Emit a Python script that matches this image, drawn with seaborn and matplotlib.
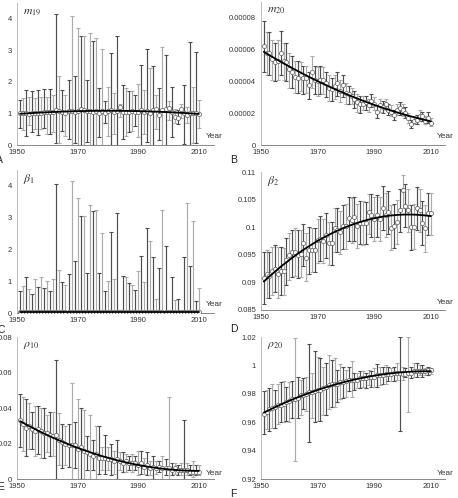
import numpy as np
import seaborn as sns
import matplotlib.pyplot as plt

years = np.arange(1951, 2011)

# A: m19
m19_val = [1.0, 1.0, 1.02, 0.98, 1.0, 1.0, 1.0, 1.02, 1.05, 1.03,
           1.05, 1.05, 1.12, 1.08, 1.05, 1.0, 1.08, 1.08, 1.05, 1.08,
           1.15, 1.12, 1.08, 1.07, 1.05, 1.08, 1.0, 1.07, 1.02, 1.08,
           1.1, 1.05, 1.08, 1.22, 1.05, 1.03, 1.05, 1.08, 1.06, 1.04,
           1.12, 1.05, 1.08, 1.0, 1.1, 1.15, 0.95, 1.12, 1.15, 1.18,
           1.05, 0.9, 0.85, 1.15, 1.0, 0.95, 1.0, 1.02, 1.0, 0.97]
m19_hi = [1.42, 1.5, 1.75, 1.52, 1.72, 1.5, 1.75, 1.52, 1.78, 1.52,
          1.77, 1.6, 4.15, 2.2, 1.75, 1.6, 2.05, 4.1, 2.2, 3.7,
          3.45, 3.45, 2.05, 3.55, 3.3, 3.4, 1.8, 3.05, 1.4, 1.85,
          2.9, 1.65, 3.45, 1.3, 1.9, 1.8, 1.7, 1.7, 1.6, 1.92,
          2.55, 1.75, 3.05, 2.45, 2.5, 1.6, 1.8, 3.1, 2.85, 1.4,
          1.85, 1.15, 1.1, 1.3, 1.9, 1.2, 3.25, 1.85, 2.95, 1.42]
m19_lo = [0.55, 0.48, 0.3, 0.62, 0.4, 0.5, 0.32, 0.5, 0.55, 0.35,
          0.35, 0.4, 0.05, 0.05, 0.45, 0.3, 0.2, 0.0, 0.05, 0.0,
          0.0, 0.0, 0.1, 0.0, 0.0, 0.0, 0.25, 0.0, 0.7, 0.3,
          0.0, 0.35, 0.0, 0.9, 0.2, 0.3, 0.4, 0.45, 0.6, 0.25,
          0.0, 0.35, 0.1, 0.0, 0.0, 0.5, 0.15, 0.0, 0.0, 0.8,
          0.25, 0.7, 0.65, 0.85, 0.02, 0.7, 0.0, 0.05, 0.05, 0.55]

# B: m20 (units of 1e-5)
m20_val = [6.2, 5.8, 5.8, 5.4, 5.2, 5.3, 5.8, 5.3, 5.2, 4.8,
           4.6, 4.3, 4.2, 4.4, 4.2, 4.2, 3.8, 4.6, 4.1, 4.0,
           4.1, 4.1, 3.9, 3.6, 3.5, 3.7, 3.9, 3.4, 3.8, 3.3,
           3.2, 3.1, 2.9, 2.7, 2.6, 2.6, 2.7, 2.5, 2.8, 2.6,
           2.1, 2.5, 2.4, 2.6, 2.2, 2.1, 1.9, 2.2, 2.3, 2.2,
           2.0, 1.7, 1.3, 1.5, 1.6, 1.8, 1.8, 1.5, 1.7, 1.4]
m20_lo = [4.6, 4.4, 4.4, 4.1, 4.0, 4.1, 4.4, 4.1, 4.0, 3.6,
          3.6, 3.3, 3.3, 3.4, 3.2, 3.3, 2.9, 3.6, 3.2, 3.1,
          3.2, 3.2, 3.0, 2.8, 2.8, 2.9, 3.1, 2.7, 3.0, 2.6,
          2.6, 2.6, 2.3, 2.1, 2.0, 2.2, 2.2, 2.1, 2.4, 2.2,
          1.7, 2.1, 2.0, 2.2, 1.9, 1.8, 1.6, 1.9, 1.9, 1.8,
          1.7, 1.4, 1.1, 1.3, 1.3, 1.5, 1.5, 1.3, 1.4, 1.2]
m20_hi = [7.8, 7.1, 7.1, 6.6, 6.4, 6.6, 7.2, 6.4, 6.4, 5.8,
          5.6, 5.3, 5.3, 5.2, 5.0, 5.0, 4.6, 5.6, 5.0, 4.9,
          5.0, 4.9, 4.6, 4.4, 4.2, 4.4, 4.6, 4.1, 4.4, 3.9,
          3.7, 3.6, 3.4, 3.2, 3.1, 3.1, 3.1, 2.9, 3.2, 3.0,
          2.5, 2.9, 2.8, 2.9, 2.6, 2.5, 2.2, 2.6, 2.7, 2.6,
          2.4, 2.0, 1.6, 1.8, 1.9, 2.2, 2.1, 1.8, 2.1, 1.7]

# C: beta1
beta1_val = [0.02, 0.03, 0.02, 0.02, 0.03, 0.02, 0.02, 0.03, 0.02, 0.02,
             0.03, 0.02, 0.02, 0.03, 0.02, 0.02, 0.03, 0.02, 0.02, 0.03,
             0.02, 0.02, 0.03, 0.02, 0.02, 0.03, 0.02, 0.02, 0.03, 0.02,
             0.02, 0.03, 0.02, 0.02, 0.03, 0.02, 0.02, 0.03, 0.02, 0.02,
             0.03, 0.02, 0.02, 0.03, 0.02, 0.02, 0.03, 0.02, 0.02, 0.03,
             0.02, 0.02, 0.03, 0.02, 0.02, 0.03, 0.02, 0.02, 0.03, 0.02]
beta1_hi = [0.7, 0.85, 1.12, 0.75, 0.6, 1.07, 0.82, 1.12, 0.78, 1.0,
            0.7, 1.07, 4.05, 1.35, 0.97, 0.88, 1.22, 4.15, 1.65, 3.62,
            3.05, 3.05, 1.25, 3.4, 3.2, 3.25, 1.25, 2.52, 0.68, 1.02,
            2.55, 1.08, 3.15, 0.1, 1.18, 1.12, 0.95, 0.88, 0.72, 1.32,
            1.8, 0.97, 2.68, 2.28, 1.75, 0.43, 1.42, 3.25, 2.1, 0.05,
            1.12, 0.4, 0.45, 0.05, 1.75, 3.45, 1.48, 2.88, 0.38, 0.8]
beta1_lo = [0.0] * 60

# D: beta2
beta2_val = [0.0908, 0.0915, 0.0912, 0.0921, 0.0925, 0.0915, 0.0921, 0.0920, 0.0940, 0.0950,
             0.0955, 0.0955, 0.0950, 0.0952, 0.0972, 0.0945, 0.0958, 0.0958, 0.0958, 0.0976,
             0.0978, 0.0975, 0.0985, 0.0972, 0.0972, 0.0998, 0.0995, 0.0992, 0.1002, 0.1002,
             0.1017, 0.1013, 0.1018, 0.1002, 0.1008, 0.1008, 0.1008, 0.1028, 0.1022, 0.1015,
             0.1023, 0.1015, 0.1035, 0.1022, 0.1028, 0.0998, 0.1002, 0.1010, 0.1032, 0.1068,
             0.1038, 0.1032, 0.1000, 0.1000, 0.1035, 0.1032, 0.1008, 0.0998, 0.1025, 0.1025]
beta2_lo = [0.0860, 0.0872, 0.0872, 0.0878, 0.0882, 0.0872, 0.0877, 0.0878, 0.0895, 0.0905,
            0.0910, 0.0912, 0.0908, 0.0910, 0.0930, 0.0902, 0.0915, 0.0918, 0.0918, 0.0935,
            0.0938, 0.0935, 0.0945, 0.0932, 0.0932, 0.0955, 0.0955, 0.0952, 0.0960, 0.0960,
            0.0975, 0.0972, 0.0975, 0.0962, 0.0970, 0.0968, 0.0970, 0.0988, 0.0982, 0.0975,
            0.0983, 0.0975, 0.0995, 0.0982, 0.0988, 0.0958, 0.0962, 0.0970, 0.0992, 0.1035,
            0.1000, 0.0992, 0.0958, 0.0960, 0.0995, 0.0992, 0.0968, 0.0955, 0.0985, 0.0985]
beta2_hi = [0.0955, 0.0958, 0.0955, 0.0965, 0.0968, 0.0965, 0.0965, 0.0962, 0.0980, 0.0990,
            0.0995, 0.0998, 0.0995, 0.0995, 0.1005, 0.0990, 0.1000, 0.0998, 0.0998, 0.1015,
            0.1020, 0.1015, 0.1025, 0.1010, 0.1010, 0.1035, 0.1035, 0.1030, 0.1040, 0.1042,
            0.1055, 0.1052, 0.1055, 0.1042, 0.1048, 0.1048, 0.1045, 0.1060, 0.1060, 0.1055,
            0.1058, 0.1055, 0.1075, 0.1062, 0.1065, 0.1040, 0.1042, 0.1050, 0.1070, 0.1095,
            0.1078, 0.1070, 0.1040, 0.1042, 0.1072, 0.1070, 0.1048, 0.1040, 0.1062, 0.1062]

# E: rho10
rho10_val = [0.033, 0.031, 0.029, 0.030, 0.028, 0.027, 0.028, 0.027, 0.026, 0.026,
             0.025, 0.024, 0.025, 0.022, 0.021, 0.020, 0.019, 0.019, 0.019, 0.017,
             0.018, 0.016, 0.015, 0.014, 0.013, 0.014, 0.012, 0.012, 0.012, 0.011,
             0.011, 0.010, 0.011, 0.010, 0.009, 0.010, 0.009, 0.009, 0.009, 0.008,
             0.009, 0.007, 0.008, 0.006, 0.007, 0.006, 0.007, 0.006, 0.006, 0.006,
             0.005, 0.006, 0.005, 0.005, 0.005, 0.005, 0.004, 0.004, 0.004, 0.004]
rho10_lo = [0.018, 0.016, 0.013, 0.017, 0.017, 0.013, 0.014, 0.012, 0.012, 0.015,
            0.013, 0.013, 0.0, 0.008, 0.006, 0.008, 0.007, 0.0, 0.006, 0.0,
            0.0, 0.0, 0.005, 0.0, 0.005, 0.0, 0.003, 0.005, 0.003, 0.005,
            0.002, 0.003, 0.0, 0.005, 0.004, 0.004, 0.005, 0.004, 0.005, 0.002,
            0.003, 0.003, 0.002, 0.002, 0.0, 0.003, 0.004, 0.0, 0.002, 0.0,
            0.002, 0.003, 0.002, 0.002, 0.0, 0.002, 0.002, 0.001, 0.002, 0.002]
rho10_hi = [0.048, 0.046, 0.045, 0.043, 0.038, 0.041, 0.041, 0.040, 0.040, 0.036,
            0.038, 0.038, 0.067, 0.037, 0.031, 0.030, 0.031, 0.054, 0.032, 0.045,
            0.040, 0.039, 0.024, 0.036, 0.022, 0.030, 0.030, 0.018, 0.025, 0.018,
            0.020, 0.016, 0.022, 0.015, 0.015, 0.014, 0.013, 0.014, 0.013, 0.016,
            0.016, 0.012, 0.015, 0.010, 0.013, 0.010, 0.010, 0.013, 0.011, 0.046,
            0.009, 0.009, 0.008, 0.009, 0.033, 0.009, 0.008, 0.010, 0.008, 0.008]

# F: rho20
rho20_val = [0.966, 0.967, 0.969, 0.970, 0.971, 0.972, 0.972, 0.973, 0.974, 0.975,
             0.976, 0.976, 0.977, 0.979, 0.979, 0.980, 0.981, 0.981, 0.982, 0.983,
             0.983, 0.984, 0.985, 0.986, 0.987, 0.987, 0.987, 0.988, 0.988, 0.989,
             0.990, 0.990, 0.990, 0.990, 0.991, 0.991, 0.991, 0.992, 0.992, 0.992,
             0.993, 0.993, 0.993, 0.994, 0.994, 0.994, 0.995, 0.995, 0.995, 0.994,
             0.994, 0.995, 0.995, 0.996, 0.996, 0.996, 0.996, 0.996, 0.997, 0.997]
rho20_lo = [0.952, 0.955, 0.954, 0.956, 0.956, 0.959, 0.960, 0.960, 0.961, 0.960,
            0.963, 0.933, 0.963, 0.965, 0.969, 0.968, 0.946, 0.963, 0.960, 0.961,
            0.961, 0.965, 0.965, 0.969, 0.971, 0.971, 0.974, 0.976, 0.977, 0.978,
            0.982, 0.978, 0.983, 0.984, 0.984, 0.985, 0.984, 0.986, 0.985, 0.985,
            0.985, 0.986, 0.987, 0.987, 0.989, 0.989, 0.989, 0.990, 0.954, 0.990,
            0.992, 0.967, 0.991, 0.992, 0.992, 0.993, 0.992, 0.993, 0.993, 0.994]
rho20_hi = [0.982, 0.983, 0.984, 0.987, 0.983, 0.987, 0.988, 0.989, 0.985, 0.988,
            0.989, 1.019, 0.992, 0.990, 0.991, 0.992, 1.015, 0.995, 1.010, 1.006,
            1.005, 0.999, 1.002, 1.007, 1.004, 1.005, 0.997, 1.001, 0.999, 0.997,
            0.999, 1.003, 0.995, 0.995, 0.996, 0.996, 0.995, 0.997, 0.996, 0.998,
            1.001, 0.999, 0.999, 1.000, 0.999, 0.998, 0.999, 1.002, 1.020, 0.999,
            0.998, 1.020, 0.999, 1.002, 1.002, 1.000, 1.000, 0.998, 0.999, 0.998]

xtick_years = [1950, 1970, 1990, 2010]

sns.set_style("white")
plt.rcParams['font.family'] = ['Liberation Sans', 'DejaVu Sans']
plt.rcParams['mathtext.fontset'] = 'stix'

W, H = 458, 498
fig = plt.figure(figsize=(W / 100, H / 100), dpi=100)

panels = [
    dict(title=r'$m_{19}$', letter='A', val=m19_val, lo=m19_lo, hi=m19_hi, scale=1,
         box=(17, 3, 214, 145), ylim=(0, 4.5), yticks=[0, 1, 2, 3, 4],
         ylabels=['0', '1', '2', '3', '4'], lpos=(-4, 160), yr_y=137),
    dict(title=r'$m_{20}$', letter='B', val=m20_val, lo=m20_lo, hi=m20_hi, scale=1e-5,
         box=(261, 2, 445, 145), ylim=(0, 0.00009),
         yticks=[0, 0.00002, 0.00004, 0.00006, 0.00008],
         ylabels=['0', '0.00002', '0.00004', '0.00006', '0.00008'], lpos=(230, 160), yr_y=137),
    dict(title=r'$\beta_1$', letter='C', val=beta1_val, lo=beta1_lo, hi=beta1_hi, scale=1,
         box=(17, 170, 214, 313), ylim=(0, 4.5), yticks=[0, 1, 2, 3, 4],
         ylabels=['0', '1', '2', '3', '4'], lpos=(-3, 330), yr_y=305),
    dict(title=r'$\beta_2$', letter='D', val=beta2_val, lo=beta2_lo, hi=beta2_hi, scale=1,
         box=(261, 172, 445, 310), ylim=(0.085, 0.11),
         yticks=[0.085, 0.09, 0.095, 0.1, 0.105, 0.11],
         ylabels=['0.085', '0.09', '0.095', '0.1', '0.105', '0.11'], lpos=(230, 329), yr_y=303),
    dict(title=r'$\rho_{10}$', letter='E', val=rho10_val, lo=rho10_lo, hi=rho10_hi, scale=1,
         box=(17, 337, 214, 479), ylim=(0, 0.08), yticks=[0, 0.02, 0.04, 0.06, 0.08],
         ylabels=['0', '0.02', '0.04', '0.06', '0.08'], lpos=(-3, 487), yr_y=473),
    dict(title=r'$\rho_{20}$', letter='F', val=rho20_val, lo=rho20_lo, hi=rho20_hi, scale=1,
         box=(261, 337, 445, 479), ylim=(0.92, 1.02),
         yticks=[0.92, 0.94, 0.96, 0.98, 1.0, 1.02],
         ylabels=['0.92', '0.94', '0.96', '0.98', '1', '1.02'], lpos=(230, 494), yr_y=473),
]

for p in panels:
    l, t, r, b = p['box']
    ax = fig.add_axes([l / W, 1 - b / H, (r - l) / W, (b - t) / H])
    val = np.array(p['val']) * p['scale']
    lo = np.array(p['lo']) * p['scale']
    hi = np.array(p['hi']) * p['scale']

    # error bars, two grey tones
    for i, yr in enumerate(years):
        col = '#4d4d4d' if i % 2 == 0 else '#ababab'
        ax.errorbar([yr], [val[i]], yerr=[[val[i] - lo[i]], [hi[i] - val[i]]],
                    fmt='none', ecolor=col, elinewidth=0.85, capsize=1.4,
                    capthick=0.8, zorder=2)

    sns.scatterplot(x=years, y=val, ax=ax, s=9, marker='o', facecolor='white',
                    edgecolor='#666666', linewidth=0.55, zorder=3)

    # trend line
    coef = np.polyfit(years, val, 2)
    sns.lineplot(x=years, y=np.polyval(coef, years), ax=ax, color='black',
                 linewidth=1.3, zorder=4)

    ax.set_xlim(1950, 2015)
    ax.set_ylim(*p['ylim'])
    ax.set_xticks(xtick_years)
    ax.set_xticklabels([str(y) for y in xtick_years], fontsize=5.5, color='#333333')
    ax.set_yticks(p['yticks'])
    ax.set_yticklabels(p['ylabels'], fontsize=5.5, color='#333333')
    ax.tick_params(axis='x', direction='inout', length=3, width=0.5, color='#888888', pad=1.5)
    ax.tick_params(axis='y', direction='out', length=2, width=0.5, color='#aaaaaa', pad=1.5)
    for s in ['top', 'right']:
        ax.spines[s].set_visible(False)
    ax.spines['bottom'].set_color('#888888')
    ax.spines['bottom'].set_linewidth(0.7)
    ax.spines['left'].set_color('#bbbbbb')
    ax.spines['left'].set_linewidth(0.7)
    ax.set_xlabel('')
    ax.set_ylabel('')
    ax.patch.set_alpha(0)

    ax.text(0.03, 0.985, p['title'], transform=ax.transAxes, ha='left', va='top',
            fontsize=8.5, color='#333333')
    fig.text((r - 8) / W, 1 - p['yr_y'] / H, 'Year', fontsize=6, color='#333333',
             ha='left', va='center')
    fig.text(p['lpos'][0] / W, 1 - p['lpos'][1] / H, p['letter'], fontsize=7.5,
             ha='left', va='center', color='#222222')

fig.savefig('out.png', dpi=100)
